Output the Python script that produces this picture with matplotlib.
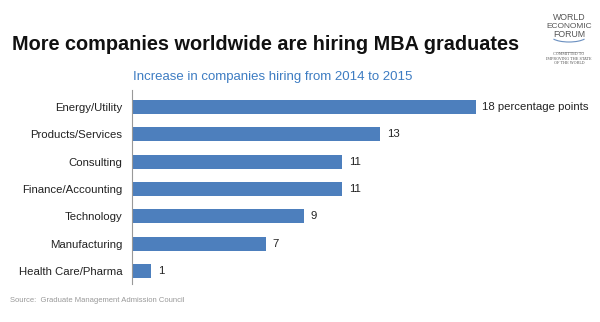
import matplotlib
matplotlib.use("Agg")
import matplotlib.pyplot as plt
import numpy as np
from matplotlib.patches import Arc

categories = ["Energy/Utility", "Products/Services", "Consulting", "Finance/Accounting",
              "Technology", "Manufacturing", "Health Care/Pharma"]
values = [18, 13, 11, 11, 9, 7, 1]
value_labels = ["18 percentage points", "13", "11", "11", "9", "7", "1"]

title = "More companies worldwide are hiring MBA graduates"
subtitle = "Increase in companies hiring from 2014 to 2015"
source = "Source:  Graduate Management Admission Council"

plt.rcParams['font.family'] = ['Liberation Sans', 'DejaVu Sans']

W, H = 600, 322
fig = plt.figure(figsize=(W / 100, H / 100), dpi=100)
fig.patch.set_facecolor("white")

ax = fig.add_axes([132 / W, 1 - 284 / H, 458 / W, (284 - 90) / H])
bar_color = "#4d7fbd"
y = np.arange(len(categories))
ax.barh(y, values, height=0.51, color=bar_color, left=0)
ax.set_xlim(0, 24)
ax.set_ylim(6.48, -0.62)
for s in ["top", "right", "bottom"]:
    ax.spines[s].set_visible(False)
ax.spines["left"].set_color("#999999")
ax.spines["left"].set_linewidth(0.8)
ax.set_xticks([])
ax.set_yticks(y)
ax.set_yticklabels(categories, fontsize=8.2, color="#222222")
ax.tick_params(axis="y", length=0, pad=7)
for yi, v, lab in zip(y, values, value_labels):
    ax.annotate(lab, (v, yi), xytext=(5, 0), textcoords="offset points",
                va="center", ha="left", fontsize=8.2, color="#222222")

fig.text(12 / W, 1 - 45 / H, title, fontsize=14.3, fontweight="bold",
         color="#111111", va="center", ha="left")
fig.text(133 / W, 1 - 77 / H, subtitle, fontsize=9.55, color="#3d7cc2",
         va="center", ha="left")
fig.text(10 / W, 1 - 301 / H, source, fontsize=5.5, color="#999999",
         va="center", ha="left")

# Logo
lx = 569 / W
fig.text(lx, 1 - 18 / H, "WORLD", fontsize=6.3, color="#555555", ha="center", va="center")
fig.text(lx, 1 - 26 / H, "ECONOMIC", fontsize=6.0, color="#555555", ha="center", va="center")
fig.text(lx, 1 - 34.5 / H, "FORUM", fontsize=6.3, color="#555555", ha="center", va="center")
arc = Arc((569 / W, 1 - 36 / H), 36 / W, 12 / H, theta1=200, theta2=340,
          transform=fig.transFigure, color="#6a8fc0", lw=0.8)
fig.add_artist(arc)
fig.add_artist(plt.Line2D([556 / W, 583 / W], [1 - 52 / H, 1 - 52 / H],
                          transform=fig.transFigure, color="#aaaaaa", lw=0.4))
fig.text(lx, 1 - 58.5 / H, "COMMITTED TO\nIMPROVING THE STATE\nOF THE WORLD", fontsize=2.6,
         color="#555555", ha="center", va="center", family="DejaVu Serif", linespacing=1.1)

fig.savefig("out.png", dpi=100, facecolor="white")
